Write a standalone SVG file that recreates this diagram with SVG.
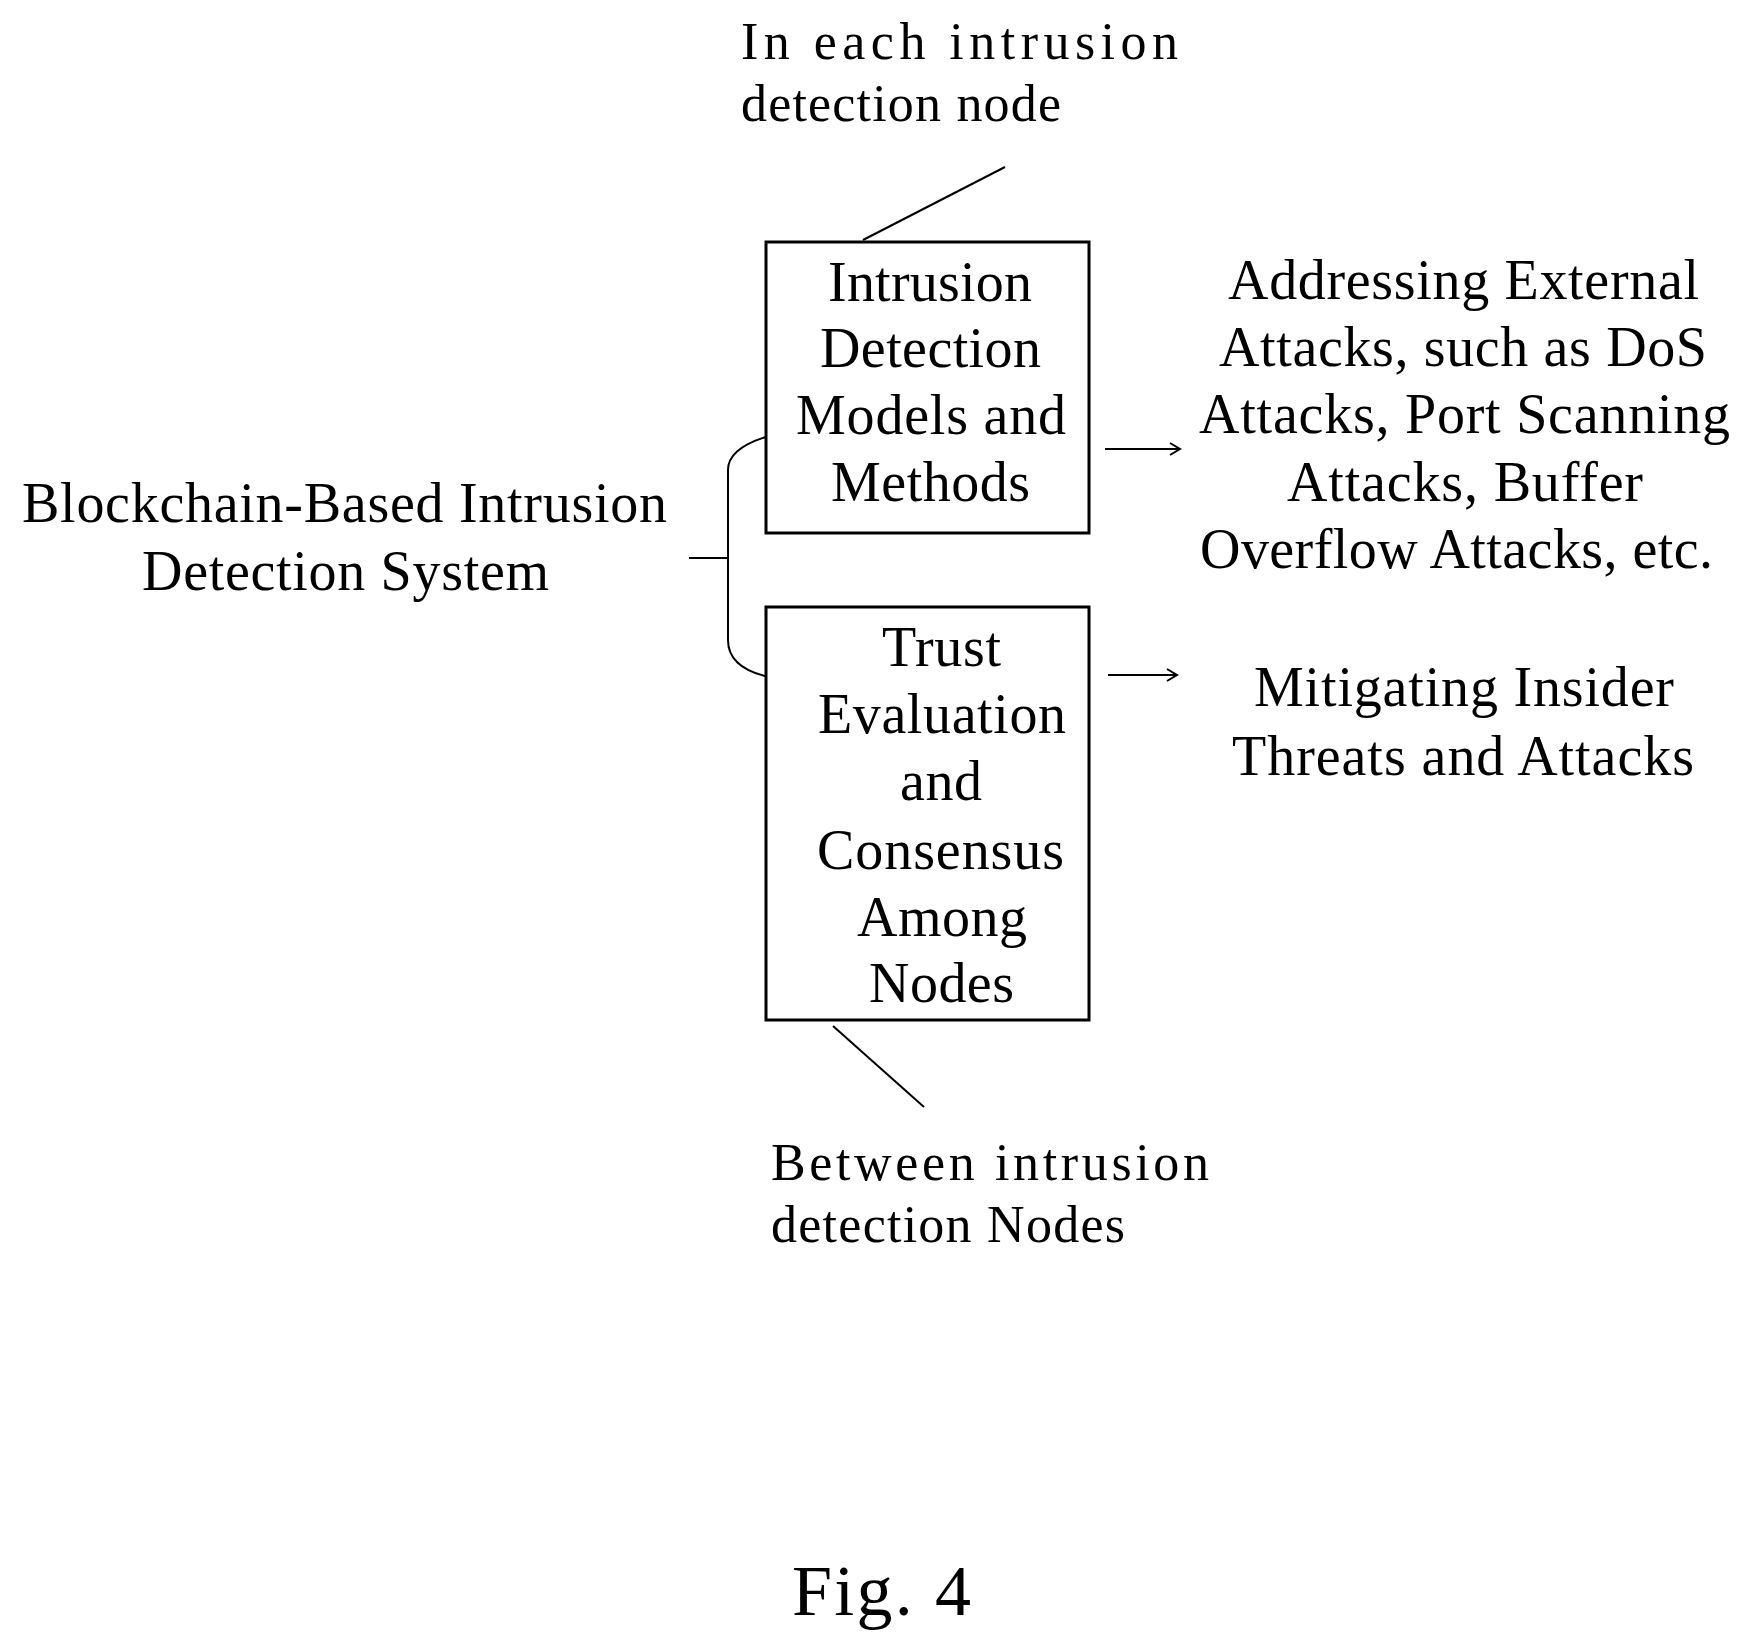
<svg xmlns="http://www.w3.org/2000/svg" width="1741" height="1643" viewBox="0 0 1741 1643">
<style>
text{font-family:"Liberation Serif","Times New Roman",serif;font-size:56px;fill:#000}
.s{font-size:52px}
.f{font-size:72px}
.box{fill:#fff;stroke:#000;stroke-width:3}
.ln{fill:none;stroke:#000;stroke-width:2}
</style>
<defs><marker id="a" markerWidth="14" markerHeight="14" refX="12" refY="7" orient="auto" markerUnits="userSpaceOnUse"><path d="M2,1 L12,7 L2,13" fill="none" stroke="#000" stroke-width="2"/></marker></defs>
<rect width="1741" height="1643" fill="#fff"/>
<g id="connectors">
<line class="ln" x1="863" y1="240" x2="1005" y2="167"/>
<line class="ln" x1="833" y1="1026" x2="924" y2="1107"/>
<path class="ln" d="M689,558 H728 M769,436 Q728,448 728,470 V640 Q728,668 769,677"/>
<line class="ln" x1="1105" y1="449" x2="1180" y2="449" marker-end="url(#a)"/>
<line class="ln" x1="1108" y1="675" x2="1177" y2="675" marker-end="url(#a)"/>
</g>
<g id="system">
<text x="22" y="522" textLength="645" lengthAdjust="spacing">Blockchain-Based Intrusion</text>
<text x="142" y="590" textLength="407" lengthAdjust="spacing">Detection System</text>
</g>
<g id="box1">
<rect class="box" x="766" y="242" width="323" height="291"/>
<text x="828" y="301" textLength="204" lengthAdjust="spacing">Intrusion</text>
<text x="820" y="367" textLength="221" lengthAdjust="spacing">Detection</text>
<text x="796" y="434" textLength="270" lengthAdjust="spacing">Models and</text>
<text x="831" y="501" textLength="199" lengthAdjust="spacing">Methods</text>
</g>
<g id="box2">
<rect class="box" x="766" y="607" width="323" height="413"/>
<text x="882" y="666" textLength="119" lengthAdjust="spacing">Trust</text>
<text x="818" y="733" textLength="248" lengthAdjust="spacing">Evaluation</text>
<text x="900" y="800" textLength="82" lengthAdjust="spacing">and</text>
<text x="817" y="869" textLength="247" lengthAdjust="spacing">Consensus</text>
<text x="857" y="936" textLength="170" lengthAdjust="spacing">Among</text>
<text x="869" y="1002" textLength="145" lengthAdjust="spacing">Nodes</text>
</g>
<g id="external">
<text x="1228" y="299" textLength="471" lengthAdjust="spacing">Addressing External</text>
<text x="1219" y="366" textLength="488" lengthAdjust="spacing">Attacks, such as DoS</text>
<text x="1199" y="433" textLength="531" lengthAdjust="spacing">Attacks, Port Scanning</text>
<text x="1287" y="501" textLength="356" lengthAdjust="spacing">Attacks, Buffer</text>
<text x="1200" y="568" textLength="513" lengthAdjust="spacing">Overflow Attacks, etc.</text>
</g>
<g id="insider">
<text x="1254" y="706" textLength="420" lengthAdjust="spacing">Mitigating Insider</text>
<text x="1232" y="775" textLength="462" lengthAdjust="spacing">Threats and Attacks</text>
</g>
<g id="top-label">
<text class="s" x="741" y="59" textLength="437" lengthAdjust="spacing">In    each    intrusion</text>
<text class="s" x="741" y="121" textLength="320" lengthAdjust="spacing">detection node</text>
</g>
<g id="bottom-label">
<text class="s" x="771" y="1180" textLength="438" lengthAdjust="spacing">Between    intrusion</text>
<text class="s" x="771" y="1242" textLength="354" lengthAdjust="spacing">detection Nodes</text>
</g>
<text class="f" x="792" y="1615" textLength="179" lengthAdjust="spacing">Fig. 4</text>
</svg>
